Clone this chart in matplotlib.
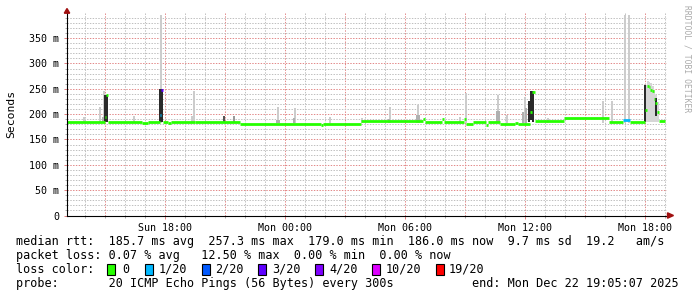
import matplotlib
matplotlib.use("Agg")
import matplotlib.pyplot as plt
from matplotlib.patches import Rectangle, Polygon

W, H, DPI = 697, 297, 100

# ---------------- data ----------------
# time axis: hours relative to Mon 00:00 (window Sun 13:05 .. Mon 19:05:07)
t_start, t_end = -10.915, 19.085
step_h = 5 / 60.0

# median RTT (ms) as steps: start time, value, lost pings (of 20)
med_t = [-10.915, -9.03, -8.95, -8.87, -7.15, -6.85, -6.28, -6.20, -6.12, -5.85,
         -5.70, -4.50, -2.25, 1.80, 1.90, 3.80, 6.90, 6.98, 7.85, 7.93,
         8.95, 9.03, 9.40, 10.05, 10.13, 10.75, 11.50, 11.65, 12.23, 12.35,
         12.50, 13.95, 16.20, 16.90, 17.25, 18.00, 18.08, 18.17, 18.25, 18.33,
         18.42, 18.50, 18.58, 18.67]
med_v = [185, 195, 237, 185, 182, 185, 198, 248, 185, 182,
         185, 184, 181.5, 178, 181.5, 186, 190, 185, 190, 185,
         190, 181, 184, 179.5, 185, 180, 182, 180, 205, 244,
         186, 192, 184, 188, 185, 208, 256, 253, 248, 245,
         230, 222, 205, 186]
med_loss = [0, 0, 0, 0, 0, 0, 1, 3, 0, 0,
            0, 0, 0, 0, 0, 0, 0, 0, 0, 0,
            0, 0, 0, 0, 0, 0, 0, 0, 0, 0,
            0, 0, 0, 1, 0, 0, 0, 0, 0, 0,
            0, 0, 0, 0]
data_end = 19.0

# light smoke (outlier pings): time, top (ms)
light_t = [-10.06, -9.27, -9.05, -7.55, -6.22, -4.55, -4.65, -0.35, 0.50, 2.25,
           3.85, 5.25, 6.65, 8.75, 9.05, 10.65, 11.10, 11.98, 13.15, 15.88,
           16.32, 16.97, 17.18]
light_top = [195, 215, 245, 196, 395, 246, 196, 215, 212, 195,
             193, 214, 218, 195, 241, 238, 198, 233, 193, 225,
             225, 396, 396]

# medium smoke: time, top (ms)
mid_t = [-9.10, -0.43, -0.33, 0.43, 5.20, 6.57, 6.70, 10.60, 10.70, 11.90, 12.02]
mid_top = [195, 188, 188, 192, 190, 198, 198, 207, 207, 205, 212]

# dense smoke (dark): time, low, high (ms)
dark_t = [-9.03, -8.90, -6.26, -6.16, 12.20, 12.30, 12.40, 18.00, 18.55]
dark_lo = [185, 185, 185, 185, 185, 188, 185, 185, 196]
dark_hi = [238, 237, 250, 250, 226, 246, 246, 257, 232]

# small grey smoke bars
grey_t = [-3.07, -2.55]
grey_top = [196, 196]
grey_col = ["#555555", "#999999"]

# smoke around the evening hump
hump_t = [18.00, 18.083, 18.167, 18.25, 18.333, 18.417, 18.50, 18.583]
hump_top = [258, 265, 264, 261, 256, 248, 238, 224]

xtick_pos = [-6, 0, 6, 12, 18]
xtick_labels = ["Sun 18:00", "Mon 00:00", "Mon 06:00", "Mon 12:00", "Mon 18:00"]
ytick_vals = [0, 50, 100, 150, 200, 250, 300, 350]
ytick_labels = ["0", "50 m", "100 m", "150 m", "200 m", "250 m", "300 m", "350 m"]

loss_labels = ["0", "1/20", "2/20", "3/20", "4/20", "10/20", "19/20"]
loss_colors = ["#26ff00", "#00b8ff", "#0059ff", "#5e00ff", "#7e00ff", "#dd00ff", "#ff0000"]
loss_index = {0: 0, 1: 1, 2: 2, 3: 3, 4: 4, 10: 5, 19: 6}

legend_rtt = "median rtt:  185.7 ms avg  257.3 ms max  179.0 ms min  186.0 ms now  9.7 ms sd  19.2   am/s"
legend_loss = "packet loss: 0.07 % avg   12.50 % max  0.00 % min  0.00 % now"
legend_probe = "probe:       20 ICMP Echo Pings (56 Bytes) every 300s"
legend_end = "end: Mon Dec 22 19:05:07 2025"

# ---------------- figure ----------------
fig = plt.figure(figsize=(W / DPI, H / DPI), dpi=DPI)
fig.patch.set_facecolor("white")

ax_l, ax_r, ax_b, ax_t = 67, 667, 215.5, 12.8
ax = fig.add_axes([ax_l / W, 1 - ax_b / H, (ax_r - ax_l) / W, (ax_b - ax_t) / H])
ax.set_xlim(t_start, t_end)
ax.set_ylim(0, 400)
ax.set_facecolor("white")

MONO = "DejaVu Sans Mono"
GRID_MINOR = "#c0c0c0"
GRID_MAJOR = "#e38a8a"
dot = (0, (1.4, 1.4))

# grid
for h in range(-10, 20):
    if t_start < h < t_end:
        ax.axvline(h, color=GRID_MAJOR if h % 3 == 0 else GRID_MINOR,
                   lw=0.72, ls=dot, zorder=0)
for v in range(10, 400, 10):
    ax.axhline(v, color=GRID_MAJOR if v % 50 == 0 else GRID_MINOR,
               lw=0.72, ls=dot, zorder=0)

# smoke
ax.bar(light_t, [t - 183 for t in light_top], bottom=183, width=step_h,
       color="#cccccc", linewidth=0, zorder=1)
ax.bar(hump_t, [t - 185 for t in hump_top], bottom=185, width=step_h, align="edge",
       color="#d6d6d6", linewidth=0, zorder=1)
ax.bar(mid_t, [t - 183 for t in mid_top], bottom=183, width=step_h,
       color="#b0b0b0", linewidth=0, zorder=2)
ax.bar(grey_t, [t - 183 for t in grey_top], bottom=183, width=step_h,
       color=grey_col, linewidth=0, zorder=2)
ax.bar(dark_t, [hi - lo for lo, hi in zip(dark_lo, dark_hi)], bottom=dark_lo,
       width=step_h, color="#2a2a2a", linewidth=0, zorder=3)

# median line coloured by loss
ends = med_t[1:] + [data_end]
for t0, t1, v, ls_ in zip(med_t, ends, med_v, med_loss):
    ax.hlines(v, t0, t1, color=loss_colors[loss_index[ls_]], lw=2.0,
              capstyle="butt", zorder=4)

# axes styling
for s in ["top", "right"]:
    ax.spines[s].set_visible(False)
for s in ["left", "bottom"]:
    ax.spines[s].set_linewidth(0.8)
    ax.spines[s].set_color("black")
    ax.spines[s].set_zorder(5)

ax.set_xticks(xtick_pos)
ax.set_xticklabels(xtick_labels, family=MONO, fontsize=7.2)
ax.set_yticks(ytick_vals)
ax.set_yticklabels(ytick_labels, family=MONO, fontsize=7.2)
ax.set_xticks([h for h in range(-10, 20) if h not in xtick_pos], minor=True)
ax.set_yticks([v for v in range(10, 400, 10) if v % 50], minor=True)
ax.tick_params(axis="both", which="major", length=2.2, width=0.7, color="#e08080", pad=3.5)
ax.tick_params(axis="both", which="minor", length=1.5, width=0.7, color="#aaaaaa")
ax.tick_params(axis="x", which="major", pad=3.0)

# arrows
def fx(px):
    return px / W

def fy(py):
    return 1 - py / H

arrow_col = "#a01010"
fig.add_artist(Polygon([(fx(64.3), fy(13.2)), (fx(69.7), fy(13.2)), (fx(67), fy(8.5))],
                       closed=True, color=arrow_col, transform=fig.transFigure))
fig.add_artist(Polygon([(fx(667.5), fy(212.8)), (fx(667.5), fy(218.2)), (fx(673.5), fy(215.5))],
                       closed=True, color=arrow_col, transform=fig.transFigure))

# axis label and watermark
fig.text(fx(11), fy(114), "Seconds", rotation=90, family=MONO, fontsize=8.2,
         ha="center", va="center")
fig.text(fx(687), fy(59), "RRDTOOL / TOBI OETIKER", rotation=270, family=MONO,
         fontsize=5.8, color="#aaaaaa", ha="center", va="center")

# legend
LF = 8.5
fig.text(fx(16), fy(241.5), legend_rtt, family=MONO, fontsize=LF, va="center")
fig.text(fx(16), fy(255.5), legend_loss, family=MONO, fontsize=LF, va="center")
fig.text(fx(16), fy(269.3), "loss color:", family=MONO, fontsize=LF, va="center")
box_x = [107, 145, 201.6, 258, 315, 371.6, 436]
txt_x = [122.6, 159, 215.6, 272, 329, 385.6, 449]
for bx, tx, lab, col in zip(box_x, txt_x, loss_labels, loss_colors):
    fig.add_artist(Rectangle((fx(bx), fy(274.5)), 8.3 / W, 10.5 / H, facecolor=col,
                             edgecolor="black", linewidth=0.8, transform=fig.transFigure))
    fig.text(fx(tx), fy(269.3), lab, family=MONO, fontsize=LF, va="center")
fig.text(fx(16), fy(283.3), legend_probe, family=MONO, fontsize=LF, va="center")
fig.text(fx(679), fy(283.3), legend_end, family=MONO, fontsize=LF, va="center", ha="right")

fig.savefig("out.png", dpi=DPI, facecolor="white")
